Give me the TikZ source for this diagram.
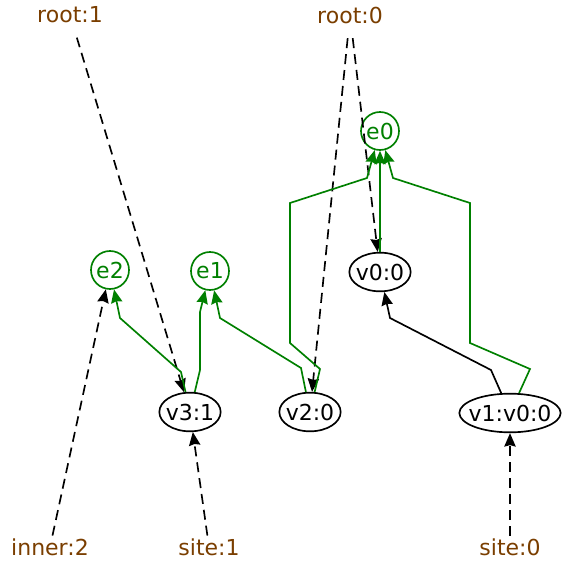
\documentclass[tikz,border=0pt]{standalone}
\usepackage{fontspec}
\setmainfont{DejaVu Sans}
\usepackage{xcolor}
\usetikzlibrary{arrows.meta, shapes.geometric}

\definecolor{treeGreen}{RGB}{0,128,0}
\definecolor{tagBrown}{RGB}{122,62,0}

\begin{document}
\begin{tikzpicture}[
    x=0.75pt, y=-0.75pt,
    font=\fontsize{16.5}{19}\selectfont,
    vert/.style={draw, ellipse, line width=1.25pt, inner xsep=-6pt, inner ysep=0pt, minimum width=46pt, minimum height=29pt},
    edgeNode/.style={draw=treeGreen, text=treeGreen, circle, line width=1.25pt, inner sep=0pt, minimum size=28.5pt},
    tag/.style={text=tagBrown, inner sep=2pt},
    link/.style={line width=1.25pt, dash pattern=on 7.5pt off 4.5pt},
    tree/.style={draw=treeGreen, line width=1.25pt},
    >={Stealth[length=10pt, width=8.5pt, inset=1pt]}
  ]
    \useasboundingbox (0,0) rectangle (562,574);

    \node[tag] (root1) at (70,15) {root:1};
    \node[tag] (root0) at (350,15) {root:0};
    \node[tag] (inner2) at (50,547) {inner:2};
    \node[tag] (site1) at (209,547) {site:1};
    \node[tag] (site0) at (510,547) {site:0};

    \node[edgeNode] (e0) at (380,131) {e0};
    \node[edgeNode] (e2) at (110,270) {e2};
    \node[edgeNode] (e1) at (210,271) {e1};

    \node[vert] (v0) at (380,272) {v0:0};
    \node[vert] (v3) at (190,412) {v3:1};
    \node[vert] (v2) at (310,412) {v2:0};
    \node[vert, minimum width=76pt] (v1) at (510,413) {v1:v0:0};

    \draw[link, ->, shorten <=9pt] (root1) -- (v3);
    \draw[link, ->, shorten <=9pt] (root0) -- (v2);
    \draw[link, ->, shorten <=9pt] (root0) -- (v0);
    \draw[link, ->] (inner2) -- (e2);
    \draw[link, ->] (site1) -- (v3);
    \draw[link, ->] (site0) -- (v1);

    \draw[line width=1.25pt, ->] (v1) -- (491,370) -- (390,318) -- (v0);

    \draw[tree, ->] (v3) -- (181,372) -- (120,318) -- (e2);
    \draw[tree, ->] (v3) -- (200,370) -- (200,312) -- (e1);
    \draw[tree, ->] (v2) -- (301,368) -- (220,318) -- (e1);
    \draw[tree, ->] (v2) -- (320,369) -- (290,343) -- (290,203) -- (367,178) -- (e0);
    \draw[tree, ->] (v0) -- (e0);
    \draw[tree, ->] (v1) -- (530,369) -- (470,343) -- (470,203) -- (393,178) -- (e0);
\end{tikzpicture}
\end{document}
